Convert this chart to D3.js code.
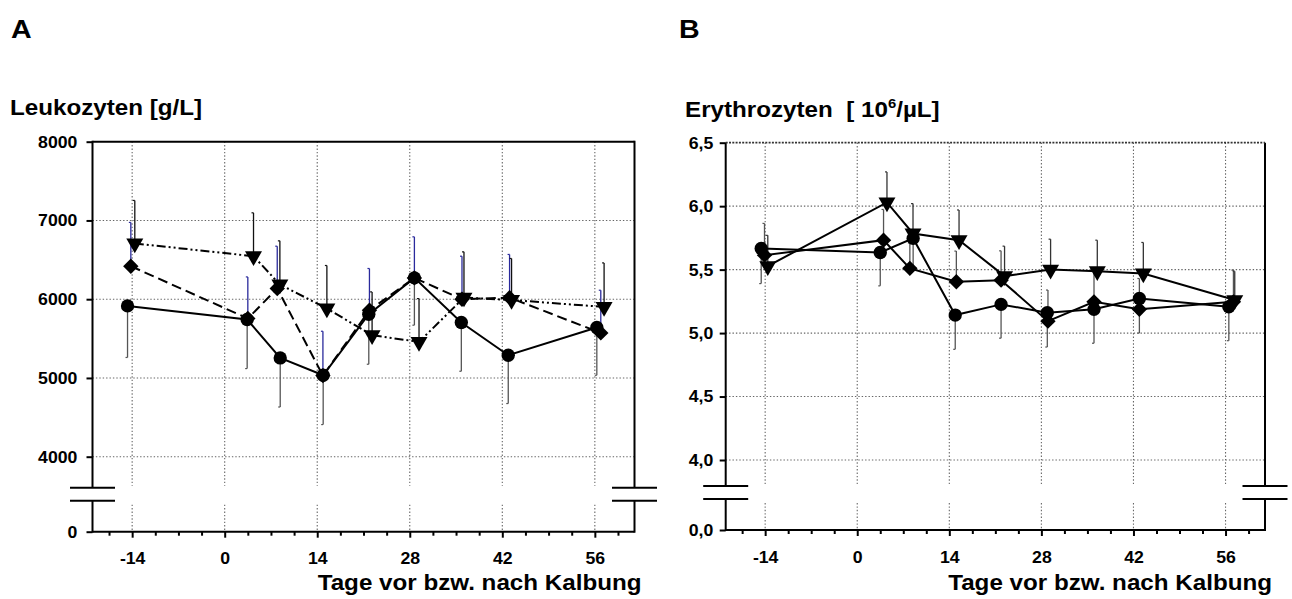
<!DOCTYPE html>
<html><head><meta charset="utf-8">
<script src="https://cdn.jsdelivr.net/npm/d3@7"></script>
<style>
body{margin:0;background:#fff}
svg{display:block}
text{font-family:"Liberation Sans",Arial,Helvetica,sans-serif;font-weight:bold;fill:#000}
</style>
</head><body>
<svg id="c" width="1292" height="599"></svg>
<script>
// ---- tick values ----
const dayTicks = [-14, 0, 14, 28, 42, 56];
const dayMinorTicks = [-17.5, -10.5, -7, -3.5, 3.5, 7, 10.5, 17.5, 21, 24.5, 31.5, 35, 38.5, 45.5, 49, 52.5, 59.5];
const leukoTicks = [0, 4000, 5000, 6000, 7000, 8000];
const eryTicks = [0, 4.0, 4.5, 5.0, 5.5, 6.0, 6.5];

// ---- Panel A: Leukozyten ----
const leukoCircleDay = [-14.7, 3.4, 8.4, 14.9, 21.8, 28.7, 35.8, 42.9, 56.3];
const leukoCircleVal = [5915, 5742, 5254, 5034, 5809, 6271, 5704, 5288, 5640];
const leukoCircleSD  = [655, 623, 623, 626, 635, 601, 619, 613, 606];

const leukoDiamondDay = [-14.2, 3.5, 7.95, 14.86, 21.9, 28.7, 35.9, 43.1, 56.9];
const leukoDiamondVal = [6419, 5755, 6136, 5030, 5860, 6270, 6000, 6020, 5572];
const leukoDiamondSD  = [556, 528, 537, 563, 530, 522, 546, 548, 542];

const leukoTriangleDay = [-13.6, 4.36, 8.35, 15.46, 22.3, 29.4, 36.2, 43.4, 57.4];
const leukoTriangleVal = [6708, 6546, 6187, 5882, 5543, 5458, 6021, 5990, 5902];
const leukoTriangleSD  = [546, 551, 554, 546, 550, 550, 580, 527, 559];

// ---- Panel B: Erythrozyten ----
const eryCircleDay = [-14.6, 3.5, 8.5, 14.9, 21.87, 28.9, 36.0, 42.9, 56.5];
const eryCircleVal = [5.667, 5.635, 5.746, 5.142, 5.226, 5.16, 5.187, 5.273, 5.207];
const eryCircleSD  = [0.277, 0.263, 0.226, 0.27, 0.266, 0.27, 0.267, 0.273, 0.267];

const eryDiamondDay = [-14.1, 4.0, 8.0, 15.07, 21.87, 29.0, 36.0, 42.9, 57.2];
const eryDiamondVal = [5.614, 5.732, 5.51, 5.404, 5.417, 5.094, 5.246, 5.187, 5.246];
const eryDiamondSD  = [0.25, 0.242, 0.2, 0.242, 0.231, 0.245, 0.25, 0.243, 0.25];

const eryTriangleDay = [-13.6, 4.52, 8.48, 15.48, 22.4, 29.4, 36.5, 43.5, 57.4];
const eryTriangleVal = [5.528, 6.029, 5.785, 5.732, 5.449, 5.5, 5.488, 5.47, 5.26];
const eryTriangleSD  = [0.242, 0.241, 0.235, 0.238, 0.236, 0.24, 0.244, 0.244, 0.228];

const svg = d3.select("#c");

function zip(days, vals, sds){ return days.map((d,i)=>({day:d, v:vals[i], sd:sds[i]})); }

function panel(cfg){
  const g = svg.append("g");
  const x = d3.scaleLinear().domain([-20, 62]).range([cfg.left, cfg.right]);
  const y = d3.scaleLinear().domain(cfg.yDomain).range([cfg.bottom, cfg.bottom - cfg.lowGap, cfg.top]);
  const bTop = cfg.bottom - 44, bBot = cfg.bottom - 31;

  // vertical grid
  dayTicks.forEach(t=>{
    [[cfg.top, bTop - 2],[bBot + 4, cfg.bottom]].forEach(([a,b])=>{
      g.append("line").attr("x1",x(t)).attr("x2",x(t)).attr("y1",a).attr("y2",b)
        .attr("stroke","#666").attr("stroke-width",1.1).attr("stroke-dasharray","1.4,2");
    });
  });
  // horizontal grid
  cfg.yTicks.filter(t=>t!==0 && t!==cfg.yDomain[2]).forEach(t=>{
    g.append("line").attr("x1",cfg.left).attr("x2",cfg.right).attr("y1",y(t)).attr("y2",y(t))
      .attr("stroke","#666").attr("stroke-width",1.1).attr("stroke-dasharray","1.4,2");
  });

  // error bars
  cfg.series.forEach(s=>{
    s.data.forEach(d=>{
      const end = s.dir > 0 ? d.v + d.sd : d.v - d.sd;
      g.append("line").attr("x1",x(d.day)).attr("x2",x(d.day)).attr("y1",y(d.v)).attr("y2",y(end))
        .attr("stroke",s.sdColor).attr("stroke-width",1.3);
      g.append("line").attr("x1",x(d.day)-2).attr("x2",x(d.day)).attr("y1",y(end)).attr("y2",y(end))
        .attr("stroke",s.sdColor).attr("stroke-width",1.2);
    });
  });
  // lines
  const line = d3.line().x(d=>x(d.day)).y(d=>y(d.v));
  cfg.series.forEach(s=>{
    g.append("path").attr("d",line(s.data)).attr("fill","none").attr("stroke","#000")
      .attr("stroke-width",2).attr("stroke-dasharray",s.dash);
  });
  // markers
  cfg.series.forEach(s=>{
    let sym, rot = 0;
    if (s.marker==="circle"){ sym = d3.symbol().type(d3.symbolCircle).size(140); }
    else if (s.marker==="diamond"){ sym = d3.symbol().type(d3.symbolSquare).size(118); rot = 45; }
    else { sym = d3.symbol().type(d3.symbolTriangle).size(125); rot = 180; }
    g.selectAll(null).data(s.data).enter().append("path")
      .attr("d", sym())
      .attr("transform", d=>`translate(${x(d.day)},${y(d.v)}) rotate(${rot})`)
      .attr("fill","#000");
  });

  // axis lines
  const ax = g.append("g").attr("stroke","#000").attr("stroke-width",2).attr("fill","none");
  [cfg.left, cfg.right].forEach(px=>{
    ax.append("line").attr("x1",px).attr("x2",px).attr("y1",cfg.top - (cfg.topDotted?0:1)).attr("y2",bTop);
    ax.append("line").attr("x1",px).attr("x2",px).attr("y1",bBot).attr("y2",cfg.bottom + 1);
    ax.append("line").attr("x1",px-22.5).attr("x2",px+22.5).attr("y1",bTop).attr("y2",bTop);
    ax.append("line").attr("x1",px-22.5).attr("x2",px+22.5).attr("y1",bBot).attr("y2",bBot);
  });
  ax.append("line").attr("x1",cfg.left).attr("x2",cfg.right).attr("y1",cfg.bottom).attr("y2",cfg.bottom);
  if (cfg.topDotted){
    g.append("line").attr("x1",cfg.left).attr("x2",cfg.right).attr("y1",cfg.top).attr("y2",cfg.top)
      .attr("stroke","#333").attr("stroke-width",1.8).attr("stroke-dasharray","2,1.3");
  } else {
    ax.append("line").attr("x1",cfg.left).attr("x2",cfg.right).attr("y1",cfg.top).attr("y2",cfg.top);
  }

  // y axis ticks + labels
  const yAxis = d3.axisLeft(y).tickValues(cfg.yTicks).tickSize(6).tickPadding(cfg.yPad).tickFormat(cfg.fmt);
  const ya = g.append("g").attr("transform",`translate(${cfg.left},0)`).call(yAxis);
  ya.attr("font-size",17).attr("font-family","Liberation Sans, Arial, sans-serif");
  ya.select(".domain").remove();
  ya.selectAll("line").attr("stroke-width",2);
  ya.selectAll("text").style("font-size","17px").style("font-weight","bold").attr("transform","scale(1.04,1)");

  // x axis minor + major
  const xMinor = d3.axisBottom(x).tickValues(dayMinorTicks).tickSize(4).tickFormat("");
  const xm = g.append("g").attr("transform",`translate(0,${cfg.bottom})`).call(xMinor);
  xm.select(".domain").remove();
  xm.selectAll("line").attr("stroke-width",2);
  const xMajor = d3.axisBottom(x).tickValues(dayTicks).tickSize(6).tickPadding(14.5).tickFormat(d=>String(d));
  const xa = g.append("g").attr("transform",`translate(0,${cfg.bottom})`).call(xMajor);
  xa.attr("font-size",17).attr("font-family","Liberation Sans, Arial, sans-serif");
  xa.select(".domain").remove();
  xa.selectAll("line").attr("stroke-width",2);
  xa.selectAll("text").style("font-size","17px").style("font-weight","bold").attr("transform","scale(1.04,1)");

  // x title
  svg.append("text").attr("transform",`translate(${cfg.right+7},590) scale(1.1,1)`)
    .attr("text-anchor","end").attr("font-size",22).text("Tage vor bzw. nach Kalbung");
}

panel({
  left: 92.5, right: 634.5, top: 141.7, bottom: 531.7, lowGap: 75,
  yDomain: [0, 4000, 8000], yTicks: leukoTicks, fmt: d=>String(d), yPad: 8.5, topDotted: false,
  series: [
    {data: zip(leukoCircleDay, leukoCircleVal, leukoCircleSD), dir: -1, marker: "circle", dash: null, sdColor: "#555"},
    {data: zip(leukoDiamondDay, leukoDiamondVal, leukoDiamondSD), dir: 1, marker: "diamond", dash: "10,5", sdColor: "#2a2a9c"},
    {data: zip(leukoTriangleDay, leukoTriangleVal, leukoTriangleSD), dir: 1, marker: "triangle", dash: "9,3,2,3,2,3", sdColor: "#111"}
  ]
});

panel({
  left: 725.7, right: 1265, top: 142.7, bottom: 530, lowGap: 70,
  yDomain: [0, 4.0, 6.5], yTicks: eryTicks, fmt: d=>d3.format(".1f")(d).replace(".", ","), yPad: 6, topDotted: true,
  series: [
    {data: zip(eryCircleDay, eryCircleVal, eryCircleSD), dir: -1, marker: "circle", dash: null, sdColor: "#555"},
    {data: zip(eryDiamondDay, eryDiamondVal, eryDiamondSD), dir: 1, marker: "diamond", dash: null, sdColor: "#555"},
    {data: zip(eryTriangleDay, eryTriangleVal, eryTriangleSD), dir: 1, marker: "triangle", dash: null, sdColor: "#333"}
  ]
});

// panel letters and titles
svg.append("text").attr("transform","translate(11,38) scale(1.1,1)").attr("font-size",26).text("A");
svg.append("text").attr("transform","translate(679,38) scale(1.1,1)").attr("font-size",26).text("B");
svg.append("text").attr("transform","translate(10,115) scale(1.1,1)").attr("font-size",22).text("Leukozyten [g/L]");
const t2 = svg.append("text").attr("transform","translate(685,117) scale(1.1,1)").attr("font-size",22)
  .style("white-space","pre");
t2.append("tspan").text("Erythrozyten  [ 10");
t2.append("tspan").attr("font-size",13.5).attr("dy",-9).text("6");
t2.append("tspan").attr("dy",9).text("/µL]");
</script>
</body></html>
